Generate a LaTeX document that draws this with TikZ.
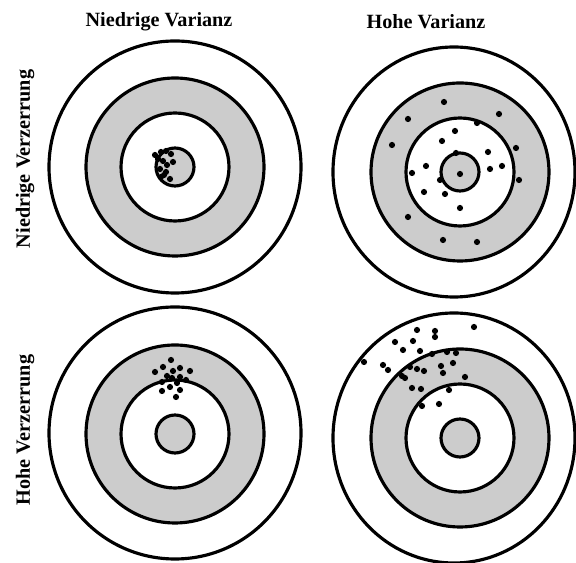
\documentclass[tikz,border=0pt]{standalone}
\usepackage{fontspec}
\setmainfont{Liberation Serif}
\usetikzlibrary{positioning}

\begin{document}
\begin{tikzpicture}[x=0.02cm, y=-0.02cm,
  ring/.style={line width=1.8pt},
  band/.style={ring, fill=black!20},
  hit/.style={fill=black},
  titel/.style={font=\fontsize{11.5}{13}\selectfont\bfseries, inner sep=1pt}]
  \useasboundingbox (0,0) rectangle (576,563);
  % Zielscheiben
  \draw[ring] (175,167) circle [radius=126];
  \draw[ring] (175,433) circle [radius=126];
  \draw[ring] (454,172) ellipse [x radius=121, y radius=125];
  \draw[ring] (454,438) ellipse [x radius=121, y radius=125];
  \foreach \cx/\cy in {175/167, 460/172, 175/434, 460/438} {
    \draw[band] (\cx,\cy) circle [radius=89];
    \draw[ring, fill=white] (\cx,\cy) circle [radius=54];
    \draw[band] (\cx,\cy) circle [radius=19];
  }
  % Treffer
  \begin{scope}[shift={(175,167)}]
    \foreach \px/\py in {-20/-12, -14/-15, -9/-16, -4/-13, -12/-6, -2/-5, -17/-8, -8/-2,
                         -15/2, -9/5, -11/8, -14/10, -5/12}
      \fill[hit] (\px,\py) circle [radius=3.1];
  \end{scope}
  \begin{scope}[shift={(460,172)}]
    \foreach \px/\py in {-16/-70, 39/-58, -52/-53, 17/-49, -5/-41, -18/-31, -68/-27, 56/-24,
                         -4/-19, 28/-20, -34/-6, 30/-3, 42/-6, -48/1, 0/2, -20/8, 59/8,
                         -36/20, -15/22, 0/36, -52/45, -17/68, 17/70}
      \fill[hit] (\px,\py) circle [radius=3.1];
  \end{scope}
  \begin{scope}[shift={(175,434)}]
    \foreach \px/\py in {-4/-74, -12/-67, 5/-66, 15/-63, -20/-62, -2/-63, -8/-58, 5/-57,
                         -3/-56, -13/-52, 11/-54, 2/-51, -5/-47, -13/-43, 5/-44, 1/-37}
      \fill[hit] (\px,\py) circle [radius=3.1];
  \end{scope}
  \begin{scope}[shift={(460,438)}]
    \foreach \px/\py in {14/-111, -43/-108, -25/-107, -25/-101, -65/-96, -47/-97, -57/-88,
                         -40/-87, -96/-76, -77/-73, -72/-68, -28/-84, -13/-86, -4/-85,
                         -7/-75, -19/-72, -17/-65, 5/-61, -58/-62, -55/-60, -50/-71,
                         -43/-69, -36/-67, -48/-50, -39/-49, -11/-48, -38/-32, -21/-34}
      \fill[hit] (\px,\py) circle [radius=3.1];
  \end{scope}
  % Beschriftung
  \node[titel] (varN) at (159,22) {Niedrige Varianz};
  \node[titel] (varH) at (426,22) {Hohe Varianz};
  \node[titel, rotate=90] (verzN) at (25,159) {Niedrige Verzerrung};
  \node[titel, rotate=90] (verzH) at (25,430) {Hohe Verzerrung};
\end{tikzpicture}
\end{document}
